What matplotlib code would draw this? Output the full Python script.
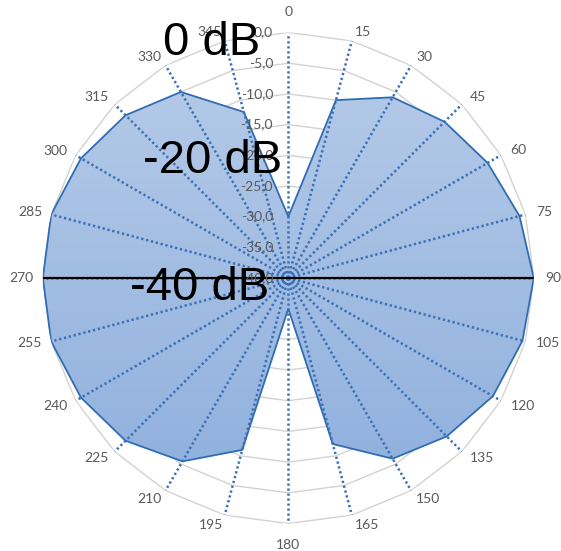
import numpy as np
import matplotlib
matplotlib.use("Agg")
import matplotlib.pyplot as plt
from matplotlib.colors import LinearSegmentedColormap

# Directivity pattern, level in dB per bearing
angles_deg = list(range(0, 360, 15))
angle_labels = [str(a) for a in angles_deg]
levels_db = [-30, -10, -6, -4, -2.5, -1, 0, -0.5, -1.5, -3.5, -6, -12,
             -35, -11, -5.5, -2.5, -1, 0, 0, 0, -1, -2.5, -5, -12]

ring_levels = [0, -5, -10, -15, -20, -25, -30, -35, -40]
ring_labels = ["0,0", "-5,0", "-10,0", "-15,0", "-20,0", "-25,0",
               "-30,0", "-35,0", "-40,0"]

big_labels = ["0 dB", "-20 dB", "-40 dB"]
big_label_px = [(163, 55), (143, 173), (130, 300)]

# pixel offsets (x right, y up) of each bearing label from its spoke tip
label_offsets = [(0, 20.5), (11, 9), (13, 8.4), (16.4, 7), (17.4, 5.3),
                 (18.6, 2.2), (19, 0), (23, -1.8), (21.8, -5.2), (19.8, -6.7),
                 (17.3, -8.4), (15, -10), (0, -21.5), (-13.8, -10),
                 (-16.6, -8.4), (-18.7, -6.7), (-20, -5.2), (-21.2, -1.8),
                 (-21, 0), (-21.2, 2.8), (-20.7, 4.3), (-18.7, 7.7),
                 (-16.6, 8.4), (-14.8, 9)]

W, H = 561, 551
fig = plt.figure(figsize=(W / 100, H / 100), dpi=100)
cx, cy, R = 288.3, 278.0, 245.5
ax = fig.add_axes([(cx - R) / W, (H - cy - R) / H, 2 * R / W, 2 * R / H],
                  projection="polar")
ax.set_theta_zero_location("N")
ax.set_theta_direction(-1)
ax.grid(False)
ax.spines["polar"].set_visible(False)
ax.patch.set_visible(False)

theta = np.deg2rad(angles_deg)
theta_c = np.append(theta, theta[0])
levels_c = np.append(levels_db, levels_db[0])

# polygonal rings
for lvl in ring_levels[:-1]:
    ax.plot(theta_c, [lvl] * len(theta_c), color="#d2d2d2", lw=1.0, zorder=1)

# filled pattern with vertical gradient
poly = ax.fill(theta_c, levels_c, facecolor="none", edgecolor="#2f6db3",
               lw=1.3, zorder=3)[0]
cmap = LinearSegmentedColormap.from_list("fillgrad", ["#8caedd", "#b8cce8"])
grad = np.linspace(0, 1, 256).reshape(-1, 1)
im = ax.imshow(grad, extent=[0, 1, 0, 1], transform=ax.transAxes, cmap=cmap,
               aspect="auto", origin="lower", zorder=2, interpolation="bilinear")
im.set_clip_path(poly)

# dotted spokes
for t in theta:
    ax.plot([t, t], [-40, 0], color="#3a6fb6", lw=1.8,
            linestyle=(0, (0.9, 1.1)), dash_capstyle="butt", zorder=4)

# horizontal reference line 270-90
for t in (np.pi / 2, 3 * np.pi / 2):
    ax.plot([t, t], [-40, 0], color="black", lw=1.6, zorder=5,
            solid_capstyle="butt")

ax.set_thetalim(0, 2 * np.pi)
ax.set_ylim(-40, 0)
ax.set_xticks([])
ax.set_yticks([])

# bearing labels
for t, lbl, (dx, dy) in zip(theta, angle_labels, label_offsets):
    ax.annotate(lbl, xy=(t, 0), xytext=(dx, dy), textcoords="offset pixels",
                ha="center", va="center", fontsize=10, color="#595959",
                family="Lato", annotation_clip=False)

# level labels along the 0 spoke
for lvl, lbl in zip(ring_levels, ring_labels):
    ax.annotate(lbl, xy=(0, lvl), xytext=(-11, 0), textcoords="offset points",
                ha="right", va="center", fontsize=10, color="#595959",
                family="Lato", zorder=6)

for txt, (px, py) in zip(big_labels, big_label_px):
    fig.text(px / W, 1 - py / H, txt, fontsize=34, family="Liberation Sans",
             ha="left", va="baseline", color="black", zorder=10)

fig.savefig("out.png", dpi=100, facecolor="white")
